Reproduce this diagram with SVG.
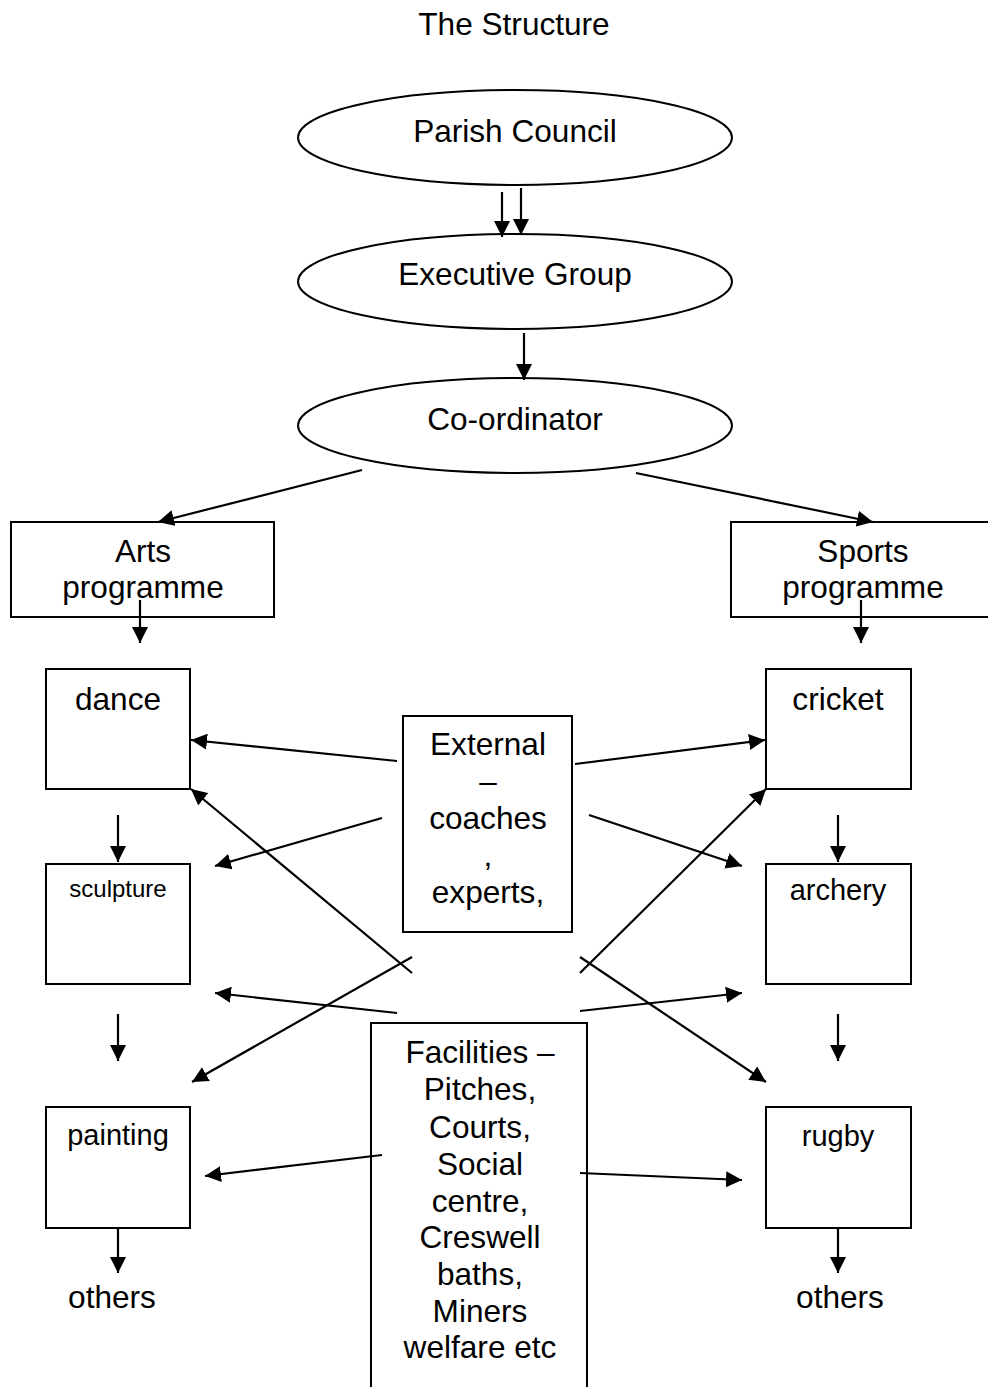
<svg xmlns="http://www.w3.org/2000/svg" width="988" height="1387" viewBox="0 0 988 1387">
<defs>
<marker id="ah" markerUnits="userSpaceOnUse" markerWidth="16" markerHeight="16" viewBox="0 0 16 16" refX="16" refY="8" orient="auto">
<path d="M0,0 L16,8 L0,16 z" fill="#000"/>
</marker>
</defs>
<style>
text{font-family:"Liberation Sans",Arial,sans-serif;fill:#000;text-anchor:middle}
.t{font-size:31.6px}
.m{font-size:29px}
.s{font-size:24px}
.node{fill:none;stroke:#000;stroke-width:2}
.c line{stroke:#000;stroke-width:2.2;marker-end:url(#ah)}
</style>
<rect width="988" height="1387" fill="#fff"/>
<text class="t" x="514" y="35">The Structure</text>
<g id="parish"><ellipse class="node" cx="515" cy="137.5" rx="217" ry="47.5"/><text class="t" x="515" y="142">Parish Council</text></g>
<g id="exec"><ellipse class="node" cx="515" cy="281.5" rx="217" ry="47.5"/><text class="t" x="515" y="285">Executive Group</text></g>
<g id="coord"><ellipse class="node" cx="515" cy="425.5" rx="217" ry="47.5"/><text class="t" x="515" y="430">Co-ordinator</text></g>
<g id="arts"><rect class="node" x="11" y="522" width="263" height="95"/><text class="t" x="143" y="562">Arts</text><text class="t" x="143" y="598">programme</text></g>
<g id="sports"><rect class="node" x="731" y="522" width="262" height="95"/><text class="t" x="863" y="562">Sports</text><text class="t" x="863" y="598">programme</text></g>
<g id="dance"><rect class="node" x="46" y="669" width="144" height="120"/><text class="t" x="118" y="710">dance</text></g>
<g id="sculpture"><rect class="node" x="46" y="864" width="144" height="120"/><text class="s" x="118" y="897">sculpture</text></g>
<g id="painting"><rect class="node" x="46" y="1107" width="144" height="121"/><text class="m" x="118" y="1145">painting</text></g>
<g id="others-left"><text class="t" x="112" y="1308">others</text></g>
<g id="cricket"><rect class="node" x="766" y="669" width="145" height="120"/><text class="t" x="838" y="710">cricket</text></g>
<g id="archery"><rect class="node" x="766" y="864" width="145" height="120"/><text class="m" x="838" y="900">archery</text></g>
<g id="rugby"><rect class="node" x="766" y="1107" width="145" height="121"/><text class="m" x="838" y="1146">rugby</text></g>
<g id="others-right"><text class="t" x="840" y="1308">others</text></g>
<g id="external"><rect class="node" x="403" y="716" width="169" height="216"/>
<text class="t" x="488" y="755">External</text><text class="t" x="488" y="792">–</text><text class="t" x="488" y="829">coaches</text><text class="t" x="488" y="866">,</text><text class="t" x="488" y="903">experts,</text></g>
<g id="facilities"><rect class="node" x="371" y="1023" width="216" height="400"/>
<text class="t" x="480" y="1063">Facilities –</text><text class="t" x="480" y="1100">Pitches,</text><text class="t" x="480" y="1138">Courts,</text><text class="t" x="480" y="1175">Social</text><text class="t" x="480" y="1212">centre,</text><text class="t" x="480" y="1248">Creswell</text><text class="t" x="480" y="1285">baths,</text><text class="t" x="480" y="1322">Miners</text><text class="t" x="480" y="1358">welfare etc</text></g>
<g id="connectors" class="c">
<line x1="502" y1="192" x2="502" y2="237"/>
<line x1="521" y1="188" x2="521" y2="235"/>
<line x1="524" y1="333" x2="524" y2="380"/>
<line x1="362" y1="470" x2="158" y2="522"/>
<line x1="636" y1="473" x2="873" y2="522"/>
<line x1="140" y1="600" x2="140" y2="643"/>
<line x1="861" y1="600" x2="861" y2="643"/>
<line x1="118" y1="815" x2="118" y2="862"/>
<line x1="118" y1="1014" x2="118" y2="1061"/>
<line x1="118" y1="1228" x2="118" y2="1273"/>
<line x1="838" y1="815" x2="838" y2="862"/>
<line x1="838" y1="1014" x2="838" y2="1061"/>
<line x1="838" y1="1228" x2="838" y2="1273"/>
<line x1="397" y1="761" x2="191" y2="740"/>
<line x1="382" y1="818" x2="215" y2="866"/>
<line x1="575" y1="764" x2="765" y2="740"/>
<line x1="589" y1="815" x2="742" y2="866"/>
<line x1="412" y1="973" x2="191" y2="789"/>
<line x1="412" y1="957" x2="192" y2="1082"/>
<line x1="580" y1="973" x2="766" y2="789"/>
<line x1="580" y1="957" x2="766" y2="1082"/>
<line x1="397" y1="1013" x2="215" y2="993"/>
<line x1="580" y1="1011" x2="742" y2="993"/>
<line x1="382" y1="1155" x2="205" y2="1176"/>
<line x1="580" y1="1173" x2="742" y2="1180"/>
</g>
</svg>
